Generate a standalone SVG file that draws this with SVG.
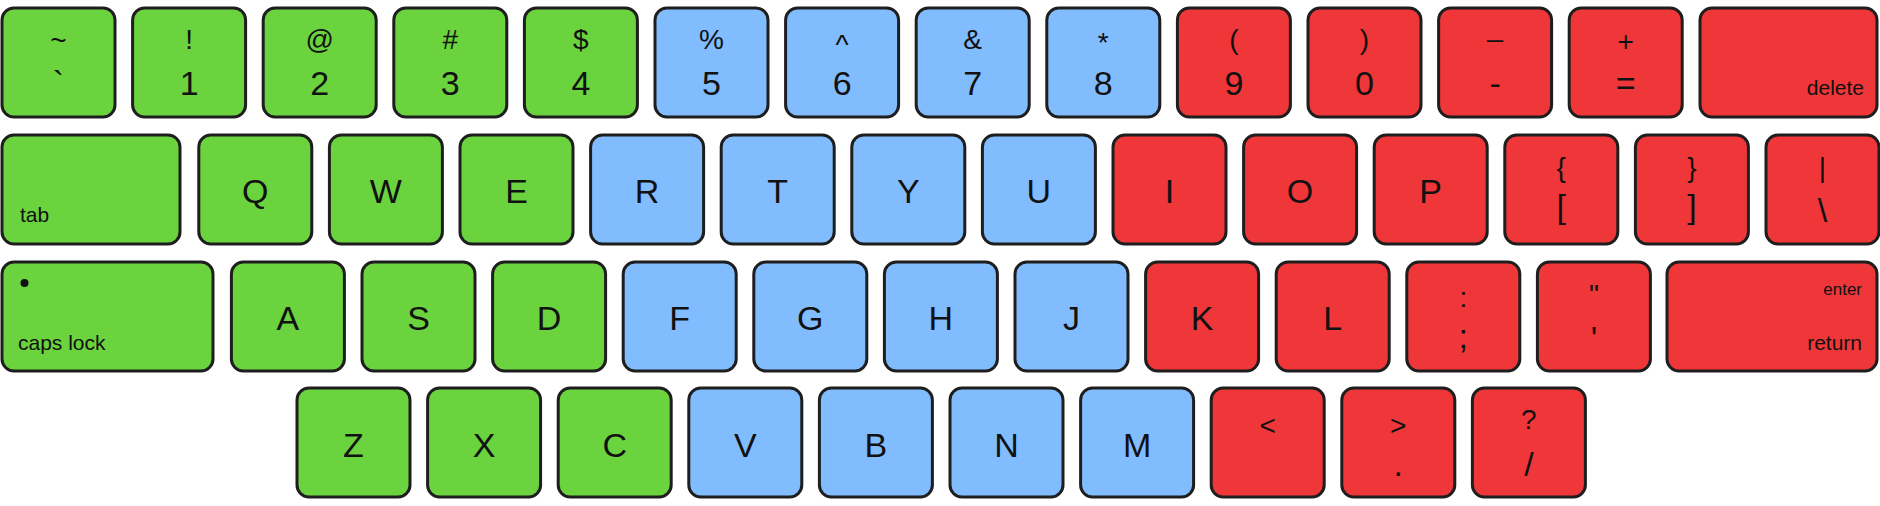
<svg xmlns="http://www.w3.org/2000/svg" width="1880" height="506" viewBox="0 0 1880 506">
<style>
.k{stroke:#1e1e1e;stroke-width:3;}
.g{fill:#6AD33E}.b{fill:#81BCFF}.r{fill:#EF3639}
text{font-family:"Liberation Sans",Arial,sans-serif;fill:#111;text-anchor:middle}
.L{font-size:34px}.T{font-size:28px}.B{font-size:34px}.S{font-size:21px}.E{font-size:17px}
.st{text-anchor:start}.en{text-anchor:end}
</style>
<rect width="1880" height="506" fill="#ffffff"/>
<g id="row1">
<g id="key-tilde"><rect class="k g" x="2" y="8" width="113" height="109" rx="12"/><text class="T" x="58.5" y="50">~</text><text class="B" x="58.5" y="95">`</text></g>
<g id="key-1"><rect class="k g" x="132.6" y="8" width="113" height="109" rx="12"/><text class="T" x="189.1" y="49">!</text><text class="B" x="189.1" y="95">1</text></g>
<g id="key-2"><rect class="k g" x="263.2" y="8" width="113" height="109" rx="12"/><text class="T" x="319.7" y="49">@</text><text class="B" x="319.7" y="95">2</text></g>
<g id="key-3"><rect class="k g" x="393.8" y="8" width="113" height="109" rx="12"/><text class="T" x="450.3" y="49">#</text><text class="B" x="450.3" y="95">3</text></g>
<g id="key-4"><rect class="k g" x="524.4" y="8" width="113" height="109" rx="12"/><text class="T" x="580.9" y="49">$</text><text class="B" x="580.9" y="95">4</text></g>
<g id="key-5"><rect class="k b" x="655" y="8" width="113" height="109" rx="12"/><text class="T" x="711.5" y="49">%</text><text class="B" x="711.5" y="95">5</text></g>
<g id="key-6"><rect class="k b" x="785.6" y="8" width="113" height="109" rx="12"/><text class="T" x="842.1" y="54">^</text><text class="B" x="842.1" y="95">6</text></g>
<g id="key-7"><rect class="k b" x="916.2" y="8" width="113" height="109" rx="12"/><text class="T" x="972.7" y="49">&amp;</text><text class="B" x="972.7" y="95">7</text></g>
<g id="key-8"><rect class="k b" x="1046.8" y="8" width="113" height="109" rx="12"/><text class="T" x="1103.3" y="52">*</text><text class="B" x="1103.3" y="95">8</text></g>
<g id="key-9"><rect class="k r" x="1177.4" y="8" width="113" height="109" rx="12"/><text class="T" x="1233.9" y="49">(</text><text class="B" x="1233.9" y="95">9</text></g>
<g id="key-0"><rect class="k r" x="1308" y="8" width="113" height="109" rx="12"/><text class="T" x="1364.5" y="49">)</text><text class="B" x="1364.5" y="95">0</text></g>
<g id="key-minus"><rect class="k r" x="1438.6" y="8" width="113" height="109" rx="12"/><text class="T" x="1495.1" y="36">_</text><text class="B" x="1495.1" y="95">-</text></g>
<g id="key-plus"><rect class="k r" x="1569.2" y="8" width="113" height="109" rx="12"/><text class="T" x="1625.7" y="51">+</text><text class="B" x="1625.7" y="95">=</text></g>
<g id="key-delete"><rect class="k r" x="1700" y="8" width="177" height="109" rx="12"/><text class="S en" x="1864" y="95">delete</text></g>
</g>
<g id="row2">
<g id="key-tab"><rect class="k g" x="2" y="135" width="178" height="109" rx="12"/><text class="S st" x="20" y="222">tab</text></g>
<g id="key-q"><rect class="k g" x="198.8" y="135" width="113" height="109" rx="12"/><text class="L" x="255.3" y="203">Q</text></g>
<g id="key-w"><rect class="k g" x="329.4" y="135" width="113" height="109" rx="12"/><text class="L" x="385.9" y="203">W</text></g>
<g id="key-e"><rect class="k g" x="460" y="135" width="113" height="109" rx="12"/><text class="L" x="516.5" y="203">E</text></g>
<g id="key-r"><rect class="k b" x="590.6" y="135" width="113" height="109" rx="12"/><text class="L" x="647.1" y="203">R</text></g>
<g id="key-t"><rect class="k b" x="721.2" y="135" width="113" height="109" rx="12"/><text class="L" x="777.7" y="203">T</text></g>
<g id="key-y"><rect class="k b" x="851.8" y="135" width="113" height="109" rx="12"/><text class="L" x="908.3" y="203">Y</text></g>
<g id="key-u"><rect class="k b" x="982.4" y="135" width="113" height="109" rx="12"/><text class="L" x="1038.9" y="203">U</text></g>
<g id="key-i"><rect class="k r" x="1113" y="135" width="113" height="109" rx="12"/><text class="L" x="1169.5" y="203">I</text></g>
<g id="key-o"><rect class="k r" x="1243.6" y="135" width="113" height="109" rx="12"/><text class="L" x="1300.1" y="203">O</text></g>
<g id="key-p"><rect class="k r" x="1374.2" y="135" width="113" height="109" rx="12"/><text class="L" x="1430.7" y="203">P</text></g>
<g id="key-lbrace"><rect class="k r" x="1504.8" y="135" width="113" height="109" rx="12"/><text class="T" x="1561.3" y="177">{</text><text class="B" x="1561.3" y="218">[</text></g>
<g id="key-rbrace"><rect class="k r" x="1635.4" y="135" width="113" height="109" rx="12"/><text class="T" x="1691.9" y="177">}</text><text class="B" x="1691.9" y="218">]</text></g>
<g id="key-pipe"><rect class="k r" x="1766" y="135" width="113" height="109" rx="12"/><text class="T" x="1822.5" y="177">|</text><text class="B" x="1822.5" y="222">\</text></g>
</g>
<g id="row3">
<g id="key-caps"><rect class="k g" x="2" y="262" width="211" height="109" rx="12"/><circle cx="24.5" cy="283" r="4" fill="#111"/><text class="S st" x="18" y="350">caps lock</text></g>
<g id="key-a"><rect class="k g" x="231.4" y="262" width="113" height="109" rx="12"/><text class="L" x="287.9" y="330">A</text></g>
<g id="key-s"><rect class="k g" x="362" y="262" width="113" height="109" rx="12"/><text class="L" x="418.5" y="330">S</text></g>
<g id="key-d"><rect class="k g" x="492.6" y="262" width="113" height="109" rx="12"/><text class="L" x="549.1" y="330">D</text></g>
<g id="key-f"><rect class="k b" x="623.2" y="262" width="113" height="109" rx="12"/><text class="L" x="679.7" y="330">F</text></g>
<g id="key-g"><rect class="k b" x="753.8" y="262" width="113" height="109" rx="12"/><text class="L" x="810.3" y="330">G</text></g>
<g id="key-h"><rect class="k b" x="884.4" y="262" width="113" height="109" rx="12"/><text class="L" x="940.9" y="330">H</text></g>
<g id="key-j"><rect class="k b" x="1015" y="262" width="113" height="109" rx="12"/><text class="L" x="1071.5" y="330">J</text></g>
<g id="key-k"><rect class="k r" x="1145.6" y="262" width="113" height="109" rx="12"/><text class="L" x="1202.1" y="330">K</text></g>
<g id="key-l"><rect class="k r" x="1276.2" y="262" width="113" height="109" rx="12"/><text class="L" x="1332.7" y="330">L</text></g>
<g id="key-semicolon"><rect class="k r" x="1406.8" y="262" width="113" height="109" rx="12"/><text class="T" x="1463.3" y="307">:</text><text class="B" x="1463.3" y="348">;</text></g>
<g id="key-quote"><rect class="k r" x="1537.4" y="262" width="113" height="109" rx="12"/><text class="T" x="1593.9" y="304">"</text><text class="B" x="1593.9" y="350">'</text></g>
<g id="key-enter"><rect class="k r" x="1667" y="262" width="210" height="109" rx="12"/><text class="E en" x="1862" y="295">enter</text><text class="S en" x="1862" y="350">return</text></g>
</g>
<g id="row4">
<g id="key-z"><rect class="k g" x="297" y="388" width="113" height="109" rx="12"/><text class="L" x="353.5" y="457">Z</text></g>
<g id="key-x"><rect class="k g" x="427.6" y="388" width="113" height="109" rx="12"/><text class="L" x="484.1" y="457">X</text></g>
<g id="key-c"><rect class="k g" x="558.2" y="388" width="113" height="109" rx="12"/><text class="L" x="614.7" y="457">C</text></g>
<g id="key-v"><rect class="k b" x="688.8" y="388" width="113" height="109" rx="12"/><text class="L" x="745.3" y="457">V</text></g>
<g id="key-b"><rect class="k b" x="819.4" y="388" width="113" height="109" rx="12"/><text class="L" x="875.9" y="457">B</text></g>
<g id="key-n"><rect class="k b" x="950" y="388" width="113" height="109" rx="12"/><text class="L" x="1006.5" y="457">N</text></g>
<g id="key-m"><rect class="k b" x="1080.6" y="388" width="113" height="109" rx="12"/><text class="L" x="1137.1" y="457">M</text></g>
<g id="key-lt"><rect class="k r" x="1211.2" y="388" width="113" height="109" rx="12"/><text class="T" x="1267.7" y="435">&lt;</text></g>
<g id="key-gt"><rect class="k r" x="1341.8" y="388" width="113" height="109" rx="12"/><text class="T" x="1398.3" y="435">&gt;</text><text class="B" x="1398.3" y="476">.</text></g>
<g id="key-slash"><rect class="k r" x="1472.4" y="388" width="113" height="109" rx="12"/><text class="T" x="1528.9" y="429">?</text><text class="B" x="1528.9" y="476">/</text></g>
</g>
</svg>
